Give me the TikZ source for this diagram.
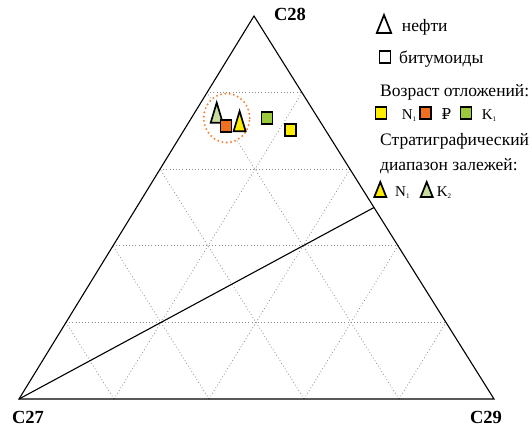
\documentclass[tikz,border=0pt]{standalone}
\usepackage{fontspec}
\setmainfont{Liberation Serif}
\newfontfamily\rubfont{DejaVu Serif}
\usepackage{xcolor}
\usetikzlibrary{calc}

\definecolor{ageyellow}{RGB}{255,237,0}
\definecolor{ageorange}{RGB}{240,112,34}
\definecolor{agegreen}{RGB}{155,200,60}
\definecolor{paleleaf}{RGB}{200,220,160}
\definecolor{ringorange}{RGB}{240,130,50}

\newcommand{\idx}[2]{#1\raisebox{-2.5pt}{\fontsize{7}{8}\selectfont #2}}

\tikzset{
  grid line/.style={gray!90, line width=0.8pt, dash pattern=on 0.8pt off 2.4pt},
  bitum/.style={draw, line width=1.8pt, minimum width=11pt, minimum height=12pt, inner sep=0pt},
  pics/oil/.style={code={\draw[line width=1.7pt, line join=miter, fill=#1] (0,-10) -- (6,10) -- (-6,10) -- cycle;}},
  label/.style={font=\fontsize{17.5}{20}\selectfont, anchor=base west, inner sep=0pt},
  unit/.style={font=\fontsize{15}{17}\selectfont, anchor=base west, inner sep=0pt},
  vertex/.style={font=\bfseries\fontsize{18.5}{20}\selectfont}
}

\begin{document}
\begin{tikzpicture}[x=1pt,y=-1pt]
  \useasboundingbox (0,0) rectangle (532,426);
  \coordinate (c27) at (19,399);
  \coordinate (c29) at (494,399);
  \coordinate (c28) at (254,16);

  % grid
  \foreach \k in {1,...,4} {
    \draw[grid line] ($(c27)!\k/5!(c28)$) -- ($(c29)!\k/5!(c28)$);
    \draw[grid line] ($(c27)!\k/5!(c29)$) -- ($(c27)!\k/5!(c28)$);
    \draw[grid line] ($(c27)!\k/5!(c29)$) -- ($(c29)!{1-\k/5}!(c28)$);
  }

  \draw[line width=1.1pt] (c27) -- (c29) -- (c28) -- cycle;
  \draw[line width=1.1pt] (c27) -- ($(c29)!0.5!(c28)$);

  \node[vertex] (l27) at (28,417) {C27};
  \node[vertex] (l28) at (290,14) {C28};
  \node[vertex] (l29) at (486,417) {C29};

  % samples
  \draw[ringorange, line width=2.2pt, dash pattern=on 0pt off 4.3pt, line cap=round, fill=white]
    (226.7,118) ellipse (23pt and 24.5pt);
  \pic at (216.7,112.7) {oil=paleleaf};
  \node[bitum, fill=ageorange] (b1) at (226,126) {};
  \pic at (239.6,121.2) {oil=ageyellow};
  \node[bitum, fill=agegreen] (b2) at (267,118) {};
  \node[bitum, fill=ageyellow] (b3) at (290.3,130) {};

  % legend
  \pic[xscale=1.2, yscale=0.9] at (384,24) {oil=white};
  \node[label] (t1) at (401.7,31.7) {нефти};
  \node[bitum, fill=white] (s1) at (385,56.7) {};
  \node[label] (t2) at (399,63.3) {битумоиды};
  \node[label] (t3) at (380,96.7) {Возраст отложений:};
  \node[bitum, fill=ageyellow] (s2) at (381,113.3) {};
  \node[unit] (t4) at (401.7,119.3) {\idx{N}{1}};
  \node[bitum, fill=ageorange] (s3) at (425.5,113.3) {};
  \node[unit] (t5) at (441.5,119.3) {\rubfont\fontsize{15}{16}\selectfont ₽};
  \node[bitum, fill=agegreen] (s4) at (466,113.3) {};
  \node[unit] (t6) at (481.7,119.3) {\idx{K}{1}};
  \node[label] (t7) at (380,145.7) {Стратиграфический};
  \node[label] (t8) at (380,170.5) {диапазон залежей:};
  \pic[yscale=0.75] at (380.3,189.5) {oil=ageyellow};
  \node[unit] (t9) at (395,196) {\idx{N}{1}};
  \pic[yscale=0.75] at (426.7,189.5) {oil=paleleaf};
  \node[unit] (t10) at (436.7,196) {\idx{K}{2}};
\end{tikzpicture}
\end{document}
